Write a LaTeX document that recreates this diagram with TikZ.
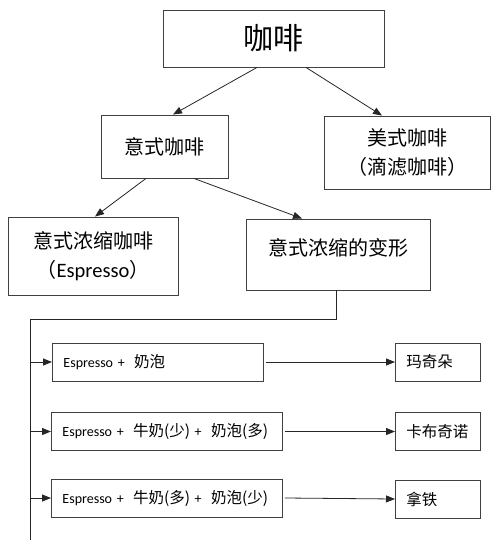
\documentclass[tikz,border=0pt]{standalone}
\usepackage{fontspec}
\setmainfont{Carlito}
\newfontfamily\cjk{Noto Sans CJK SC}
\usetikzlibrary{arrows.meta,calc}
\newcommand{\zh}[1]{{\cjk\fontsize{15.5}{17}\selectfont #1}}

\begin{document}
\begin{tikzpicture}[x=1pt,y=-1pt,
    box/.style={draw=black!75,line width=0.9pt,inner sep=0pt,align=center,
      font=\cjk\fontsize{20}{29}\selectfont},
    rowbox/.style={draw=black!75,line width=0.9pt,inner xsep=11pt,inner ysep=0pt,
      minimum height=38pt,anchor=west,align=left,font=\fontsize{14}{17}\selectfont},
    link/.style={draw=black!85,line width=0.8pt,-{Triangle[length=9pt,width=7pt]}},
    bar/.style={draw=black!85,line width=0.8pt}]
    \useasboundingbox (0,0) rectangle (500,540);
    % tree
    \node[box,minimum width=221pt,minimum height=57pt,
      font=\cjk\fontsize{30}{36}\selectfont] (coffee) at (273.5,38.5) {咖啡};
    \node[box,minimum width=127pt,minimum height=63pt] (italian) at (164.5,146.5) {意式咖啡};
    \node[box,minimum width=166pt,minimum height=73pt] (american) at (407,152.5) {美式咖啡\\（滴滤咖啡）};
    \node[box,minimum width=170pt,minimum height=78pt] (espresso) at (93,256)
      {意式浓缩咖啡\\（{\fontspec{Carlito}\fontsize{20.5}{29}\selectfont Espresso}）};
    \node[box,minimum width=184pt,minimum height=71pt,text depth=15pt] (variant) at (338,254.5) {意式浓缩的变形};
    \draw[link] ([xshift=-16.5pt]coffee.south) -- ([xshift=8.5pt]italian.north);
    \draw[link] ([xshift=32.5pt]coffee.south) -- ([xshift=-25pt]american.north);
    \draw[link] ([xshift=-18.5pt]italian.south) -- ([xshift=2pt]espresso.north);
    \draw[link] ([xshift=29.5pt]italian.south) -- ([xshift=-36pt]variant.north);
    % variants
    \coordinate (bus) at (30,319);
    \coordinate (busend) at (30,540);
    \draw[bar] ([xshift=-2pt]variant.south) |- (bus) -- (busend);
    \node[rowbox,text width=189pt] (row1) at (52,362) {Espresso + \ \zh{奶泡}};
    \node[rowbox,text width=209pt] (row2) at (51,431.5) {Espresso + \ \zh{牛奶(少)} + \ \zh{奶泡(多)}};
    \node[rowbox,text width=209pt] (row3) at (51,498) {Espresso + \ \zh{牛奶(多)} + \ \zh{奶泡(少)}};
    \node[rowbox,text width=63pt] (macchiato) at (395,362) {\zh{玛奇朵}};
    \node[rowbox,text width=63pt] (cappuccino) at (395,431.5) {\zh{卡布奇诺}};
    \node[rowbox,text width=63pt] (latte) at (395,499) {\zh{拿铁}};
    \draw[link] (bus |- row1.west) -- (row1.west);
    \draw[link] (bus |- row2.west) -- (row2.west);
    \draw[link] (bus |- row3.west) -- (row3.west);
    \draw[link] ([xshift=2pt]row1.east) -- (macchiato.west);
    \draw[link] ([xshift=2pt]row2.east) -- (cappuccino.west);
    \draw[link] ([xshift=2pt]row3.east) -- (latte.west);
\end{tikzpicture}
\end{document}
